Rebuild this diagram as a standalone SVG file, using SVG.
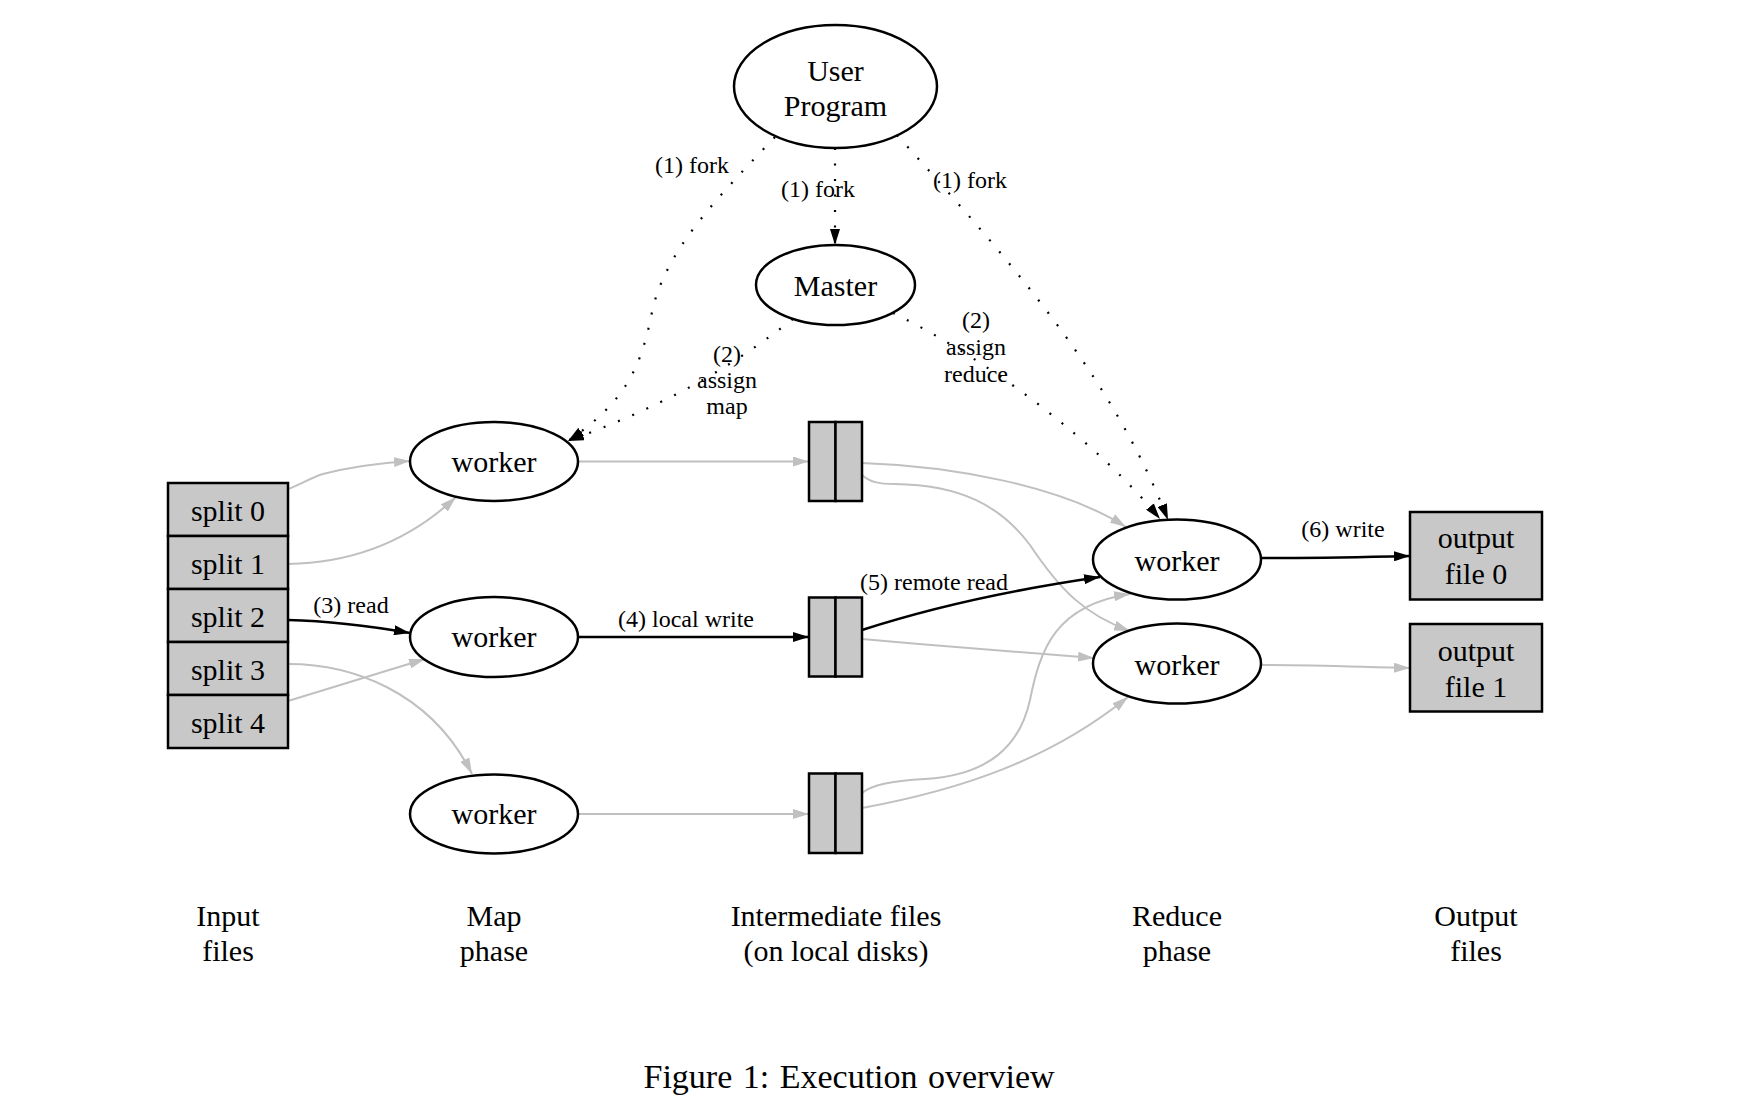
<svg xmlns="http://www.w3.org/2000/svg" width="1748" height="1102" viewBox="0 0 1748 1102">
<style>
.bg{fill:#ffffff}
ellipse.n{fill:#ffffff;stroke:#000;stroke-width:2.5}
.box{fill:#c8c8c8;stroke:#000;stroke-width:2.5}
text{font-family:"Liberation Serif","Times New Roman",serif;font-size:30px;text-anchor:middle;fill:#000}
text.l{font-size:24px}
text.cap{font-size:34px}
.eg{fill:none;stroke:#c0c0c0;stroke-width:2}
.eb{fill:none;stroke:#000;stroke-width:2.5}
.ed{fill:none;stroke:#000;stroke-width:2.2;stroke-dasharray:2 13.5}
</style>
<defs>
<marker id="ab" viewBox="0 0 16 10" markerUnits="userSpaceOnUse" markerWidth="16" markerHeight="10" refX="16" refY="5" orient="auto"><path d="M0,0 L16,5 L0,10 z" fill="#000"/></marker>
<marker id="ag" viewBox="0 0 16 10" markerUnits="userSpaceOnUse" markerWidth="16" markerHeight="10" refX="16" refY="5" orient="auto"><path d="M0,0 L16,5 L0,10 z" fill="#c0c0c0"/></marker>
</defs>
<rect class="bg" x="0" y="0" width="1748" height="1102"/>

<g id="connectors">
<!-- dotted control edges -->
<path class="ed" d="M835,148 L835,245" marker-end="url(#ab)"/>
<path class="ed" d="M775,137 C720,195 665,250 652,312 C640,375 620,405 568,441" marker-end="url(#ab)"/>
<path class="ed" d="M793,319 C740,360 680,400 568,441" marker-end="url(#ab)"/>
<path class="ed" d="M897,135 C1000,250 1110,370 1168,520" marker-end="url(#ab)"/>
<path class="ed" d="M893,313 C990,360 1100,445 1160,519" marker-end="url(#ab)"/>
<!-- input splits to map workers -->
<path class="eg" d="M288,489 C300,485 312,477 323,474 C350,467 380,463 410,461" marker-end="url(#ag)"/>
<path class="eg" d="M288,564 C345,563 405,545 456,497" marker-end="url(#ag)"/>
<path class="eb" d="M288,620 C330,621 370,626 410,633" marker-end="url(#ab)"/>
<path class="eg" d="M288,664 C350,664 430,690 472,774" marker-end="url(#ag)"/>
<path class="eg" d="M288,701 L425,659" marker-end="url(#ag)"/>
<!-- map workers to intermediate files -->
<path class="eg" d="M578,461.5 L809,461.5" marker-end="url(#ag)"/>
<path class="eb" d="M578,637 L809,637" marker-end="url(#ab)"/>
<path class="eg" d="M578,814 L809,814" marker-end="url(#ag)"/>
<!-- intermediate files to reduce workers -->
<path class="eg" d="M862,463 C950,466 1060,485 1126,527" marker-end="url(#ag)"/>
<path class="eg" d="M862,475 C870,482 878,484 895,484 C960,485 1000,505 1030,545 C1060,590 1085,615 1130,631" marker-end="url(#ag)"/>
<path class="eb" d="M862,630 C930,608 1010,590 1100,577" marker-end="url(#ab)"/>
<path class="eg" d="M862,639 C940,646 1020,652 1094,658" marker-end="url(#ag)"/>
<path class="eg" d="M862,793 C872,785 890,781 925,779 C990,775 1020,745 1030,700 C1040,650 1055,605 1130,594" marker-end="url(#ag)"/>
<path class="eg" d="M862,808 C960,790 1050,760 1128,697" marker-end="url(#ag)"/>
<!-- reduce workers to outputs -->
<path class="eb" d="M1261,558 C1320,558 1360,557 1410,556" marker-end="url(#ab)"/>
<path class="eg" d="M1261,665 C1320,665 1360,667 1410,668" marker-end="url(#ag)"/>
<!-- edge labels -->
<text class="l" x="692" y="173">(1) fork</text>
<text class="l" x="818" y="197">(1) fork</text>
<text class="l" x="970" y="188">(1) fork</text>
<text class="l" x="727" y="362">(2)</text>
<text class="l" x="727" y="388">assign</text>
<text class="l" x="727" y="414">map</text>
<text class="l" x="976" y="328">(2)</text>
<text class="l" x="976" y="355">assign</text>
<text class="l" x="976" y="382">reduce</text>
<text class="l" x="351" y="613">(3) read</text>
<text class="l" x="686" y="627">(4) local write</text>
<text class="l" x="934" y="590">(5) remote read</text>
<text class="l" x="1343" y="537">(6) write</text>
</g>

<g id="user-program"><ellipse class="n" cx="835.5" cy="86.5" rx="101.5" ry="61.5"/><text x="835.5" y="81">User</text><text x="835.5" y="116">Program</text></g>
<g id="master"><ellipse class="n" cx="835.5" cy="285" rx="79.5" ry="40"/><text x="835.5" y="296">Master</text></g>

<g id="split-0"><rect class="box" x="168" y="483" width="120" height="53"/><text x="228" y="520.5">split 0</text></g>
<g id="split-1"><rect class="box" x="168" y="536" width="120" height="53"/><text x="228" y="573.5">split 1</text></g>
<g id="split-2"><rect class="box" x="168" y="589" width="120" height="53"/><text x="228" y="626.5">split 2</text></g>
<g id="split-3"><rect class="box" x="168" y="642" width="120" height="53"/><text x="228" y="679.5">split 3</text></g>
<g id="split-4"><rect class="box" x="168" y="695" width="120" height="53"/><text x="228" y="732.5">split 4</text></g>

<g id="map-worker-1"><ellipse class="n" cx="494" cy="461.5" rx="84" ry="39.5"/><text x="494" y="471.5">worker</text></g>
<g id="map-worker-2"><ellipse class="n" cx="494" cy="637" rx="84" ry="40"/><text x="494" y="647">worker</text></g>
<g id="map-worker-3"><ellipse class="n" cx="494" cy="814" rx="84" ry="39.5"/><text x="494" y="824">worker</text></g>

<g id="intermediate-1"><rect class="box" x="809" y="422" width="26.5" height="79"/><rect class="box" x="835.5" y="422" width="26.5" height="79"/></g>
<g id="intermediate-2"><rect class="box" x="809" y="597.5" width="26.5" height="79"/><rect class="box" x="835.5" y="597.5" width="26.5" height="79"/></g>
<g id="intermediate-3"><rect class="box" x="809" y="773.5" width="26.5" height="79.5"/><rect class="box" x="835.5" y="773.5" width="26.5" height="79.5"/></g>

<g id="reduce-worker-1"><ellipse class="n" cx="1177" cy="559.5" rx="84" ry="40"/><text x="1177" y="570.5">worker</text></g>
<g id="reduce-worker-2"><ellipse class="n" cx="1177" cy="663.5" rx="84" ry="40"/><text x="1177" y="674.5">worker</text></g>

<g id="output-file-0"><rect class="box" x="1410" y="512" width="132" height="87.5"/><text x="1476" y="548">output</text><text x="1476" y="584">file 0</text></g>
<g id="output-file-1"><rect class="box" x="1410" y="624" width="132" height="87.5"/><text x="1476" y="661">output</text><text x="1476" y="697">file 1</text></g>

<g id="phase-labels">
<text x="228" y="926">Input</text><text x="228" y="961">files</text>
<text x="494" y="926">Map</text><text x="494" y="961">phase</text>
<text x="836" y="926">Intermediate files</text><text x="836" y="961">(on local disks)</text>
<text x="1177" y="926">Reduce</text><text x="1177" y="961">phase</text>
<text x="1476" y="926">Output</text><text x="1476" y="961">files</text>
</g>
<g id="caption"><text class="cap" x="849" y="1088" word-spacing="2">Figure 1: Execution overview</text></g>
</svg>
